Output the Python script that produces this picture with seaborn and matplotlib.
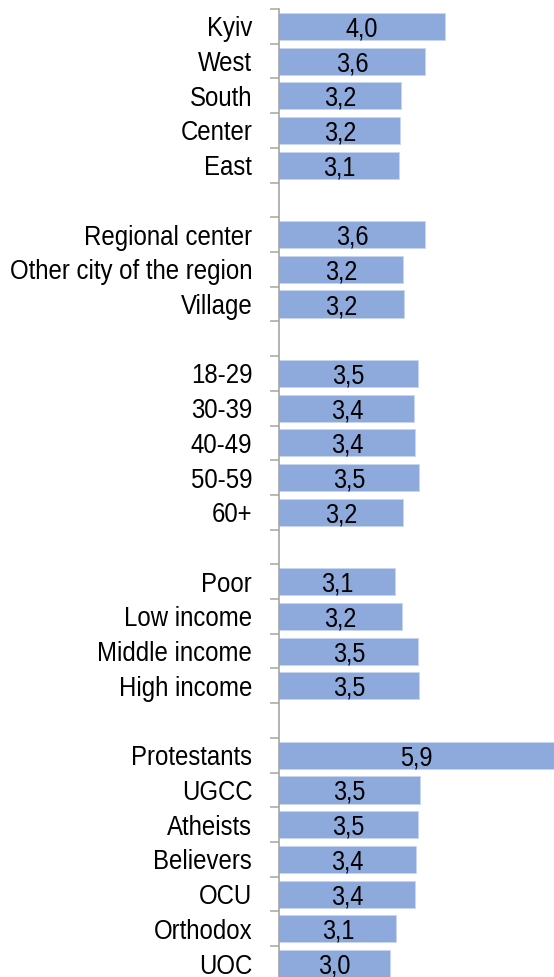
import matplotlib
matplotlib.use("Agg")
import matplotlib.pyplot as plt
from matplotlib import font_manager
from matplotlib.font_manager import FontProperties
import seaborn as sns
import pandas as pd
import numpy as np

# ---- data ----
region = ["Kyiv", "West", "South", "Center", "East"]
region_vals = [3.96, 3.61, 3.17, 3.16, 3.13]
settlement = ["Regional center", "Other city of the region", "Village"]
settlement_vals = [3.60, 3.21, 3.22]
age = ["18-29", "30-39", "40-49", "50-59", "60+"]
age_vals = [3.47, 3.41, 3.42, 3.49, 3.20]
income = ["Poor", "Low income", "Middle income", "High income"]
income_vals = [3.07, 3.19, 3.48, 3.50]
religion = ["Protestants", "UGCC", "Atheists", "Believers", "OCU", "Orthodox", "UOC"]
religion_vals = [5.93, 3.51, 3.47, 3.44, 3.43, 3.09, 2.97]

groups = [(region, region_vals), (settlement, settlement_vals), (age, age_vals),
          (income, income_vals), (religion, religion_vals)]

labels, values, order = [], [], []
for gi, (cats, vals) in enumerate(groups):
    if gi > 0:
        order.append(f"__gap{gi}")
    for c, v in zip(cats, vals):
        labels.append(c)
        values.append(v)
        order.append(c)
df = pd.DataFrame({"label": labels, "value": values})


def make_narrow_font(sx=0.88, name="LibNarrow"):
    """Build an Arial-Narrow-like face by horizontally scaling Liberation Sans."""
    from fontTools.ttLib import TTFont
    from fontTools.ttLib.tables._g_l_y_f import GlyphCoordinates
    src = font_manager.findfont(FontProperties(family="Liberation Sans"),
                                fallback_to_default=False)
    f = TTFont(src)
    glyf = f["glyf"]
    hmtx = f["hmtx"]
    for gname in f.getGlyphOrder():
        g = glyf[gname]
        if g.isComposite():
            for c in g.components:
                c.x = int(round(c.x * sx))
        elif g.numberOfContours > 0:
            g.coordinates = GlyphCoordinates(
                [(int(round(x * sx)), y) for x, y in g.coordinates])
    for gname in f.getGlyphOrder():
        g = glyf[gname]
        if g.numberOfContours != 0:
            g.recalcBounds(glyf)
        adv, lsb = hmtx.metrics[gname]
        new_lsb = g.xMin if hasattr(g, "xMin") and g.numberOfContours != 0 else int(round(lsb * sx))
        hmtx.metrics[gname] = (int(round(adv * sx)), new_lsb)
    if "kern" in f:
        for t in f["kern"].kernTables:
            if hasattr(t, "kernTable"):
                for k in list(t.kernTable):
                    t.kernTable[k] = int(round(t.kernTable[k] * sx))
    for rec in f["name"].names:
        if rec.nameID in (1, 16):
            rec.string = name
        elif rec.nameID == 4:
            rec.string = name + " Regular"
        elif rec.nameID == 6:
            rec.string = name + "-Regular"
    f.save(name + ".ttf")
    font_manager.fontManager.addfont(name + ".ttf")
    return name


# ---- style ----
sns.set_theme(style="white")
try:
    fam_name = make_narrow_font(0.88)
    plt.rcParams["font.family"] = [fam_name, "Liberation Sans", "DejaVu Sans"]
    cat_size, val_size = 19.6, 19.2
except Exception:
    plt.rcParams["font.family"] = ["Liberation Sans", "DejaVu Sans"]
    cat_size, val_size = 17.0, 16.5

W, H = 554, 977
fig = plt.figure(figsize=(W / 100, H / 100), dpi=100)
axis_x = 279.3
top_px = 9.0
row_h = 34.71
n_rows = len(order)
ax_h = n_rows * row_h
ax = fig.add_axes([axis_x / W, (H - top_px - ax_h) / H, (W - axis_x) / W, ax_h / H])

bar_color = "#8EA9DB"
sns.barplot(data=df, x="value", y="label", order=order, orient="h",
            color=bar_color, saturation=1, width=0.78, ax=ax,
            edgecolor="#C9D6EF", linewidth=0.6)

xmin = 1.0
xmax = xmin + (W - axis_x) / 56.0
ax.set_xlim(xmin, xmax)
ax.set_ylim(n_rows - 0.5, -0.5)

# value labels centred in the visible bar
for i, name in enumerate(order):
    if name in labels:
        v = values[labels.index(name)]
        xc = (xmin + min(v, xmax)) / 2
        ax.text(xc, i, f"{v:.1f}".replace(".", ","),
                ha="center", va="center_baseline", fontsize=val_size, color="black")

# axes styling
for s in ["top", "right", "bottom"]:
    ax.spines[s].set_visible(False)
ax.spines["left"].set_color("#A6A6A6")
ax.spines["left"].set_linewidth(1.2)
ax.xaxis.set_visible(False)
ax.set_xlabel("")
ax.set_ylabel("")
ax.set_yticks(range(n_rows))
ax.set_yticklabels(["" if o.startswith("__gap") else o for o in order])
ax.set_yticks(np.arange(-0.5, n_rows + 0.5, 1.0), minor=True)
ax.tick_params(axis="y", which="major", length=0, pad=19.5, labelsize=cat_size, labelcolor="black")
ax.tick_params(axis="y", which="minor", length=6.5, width=1.1, color="#A6A6A6", direction="out", left=True)
ax.grid(False)

fig.savefig("out.png", dpi=100)
